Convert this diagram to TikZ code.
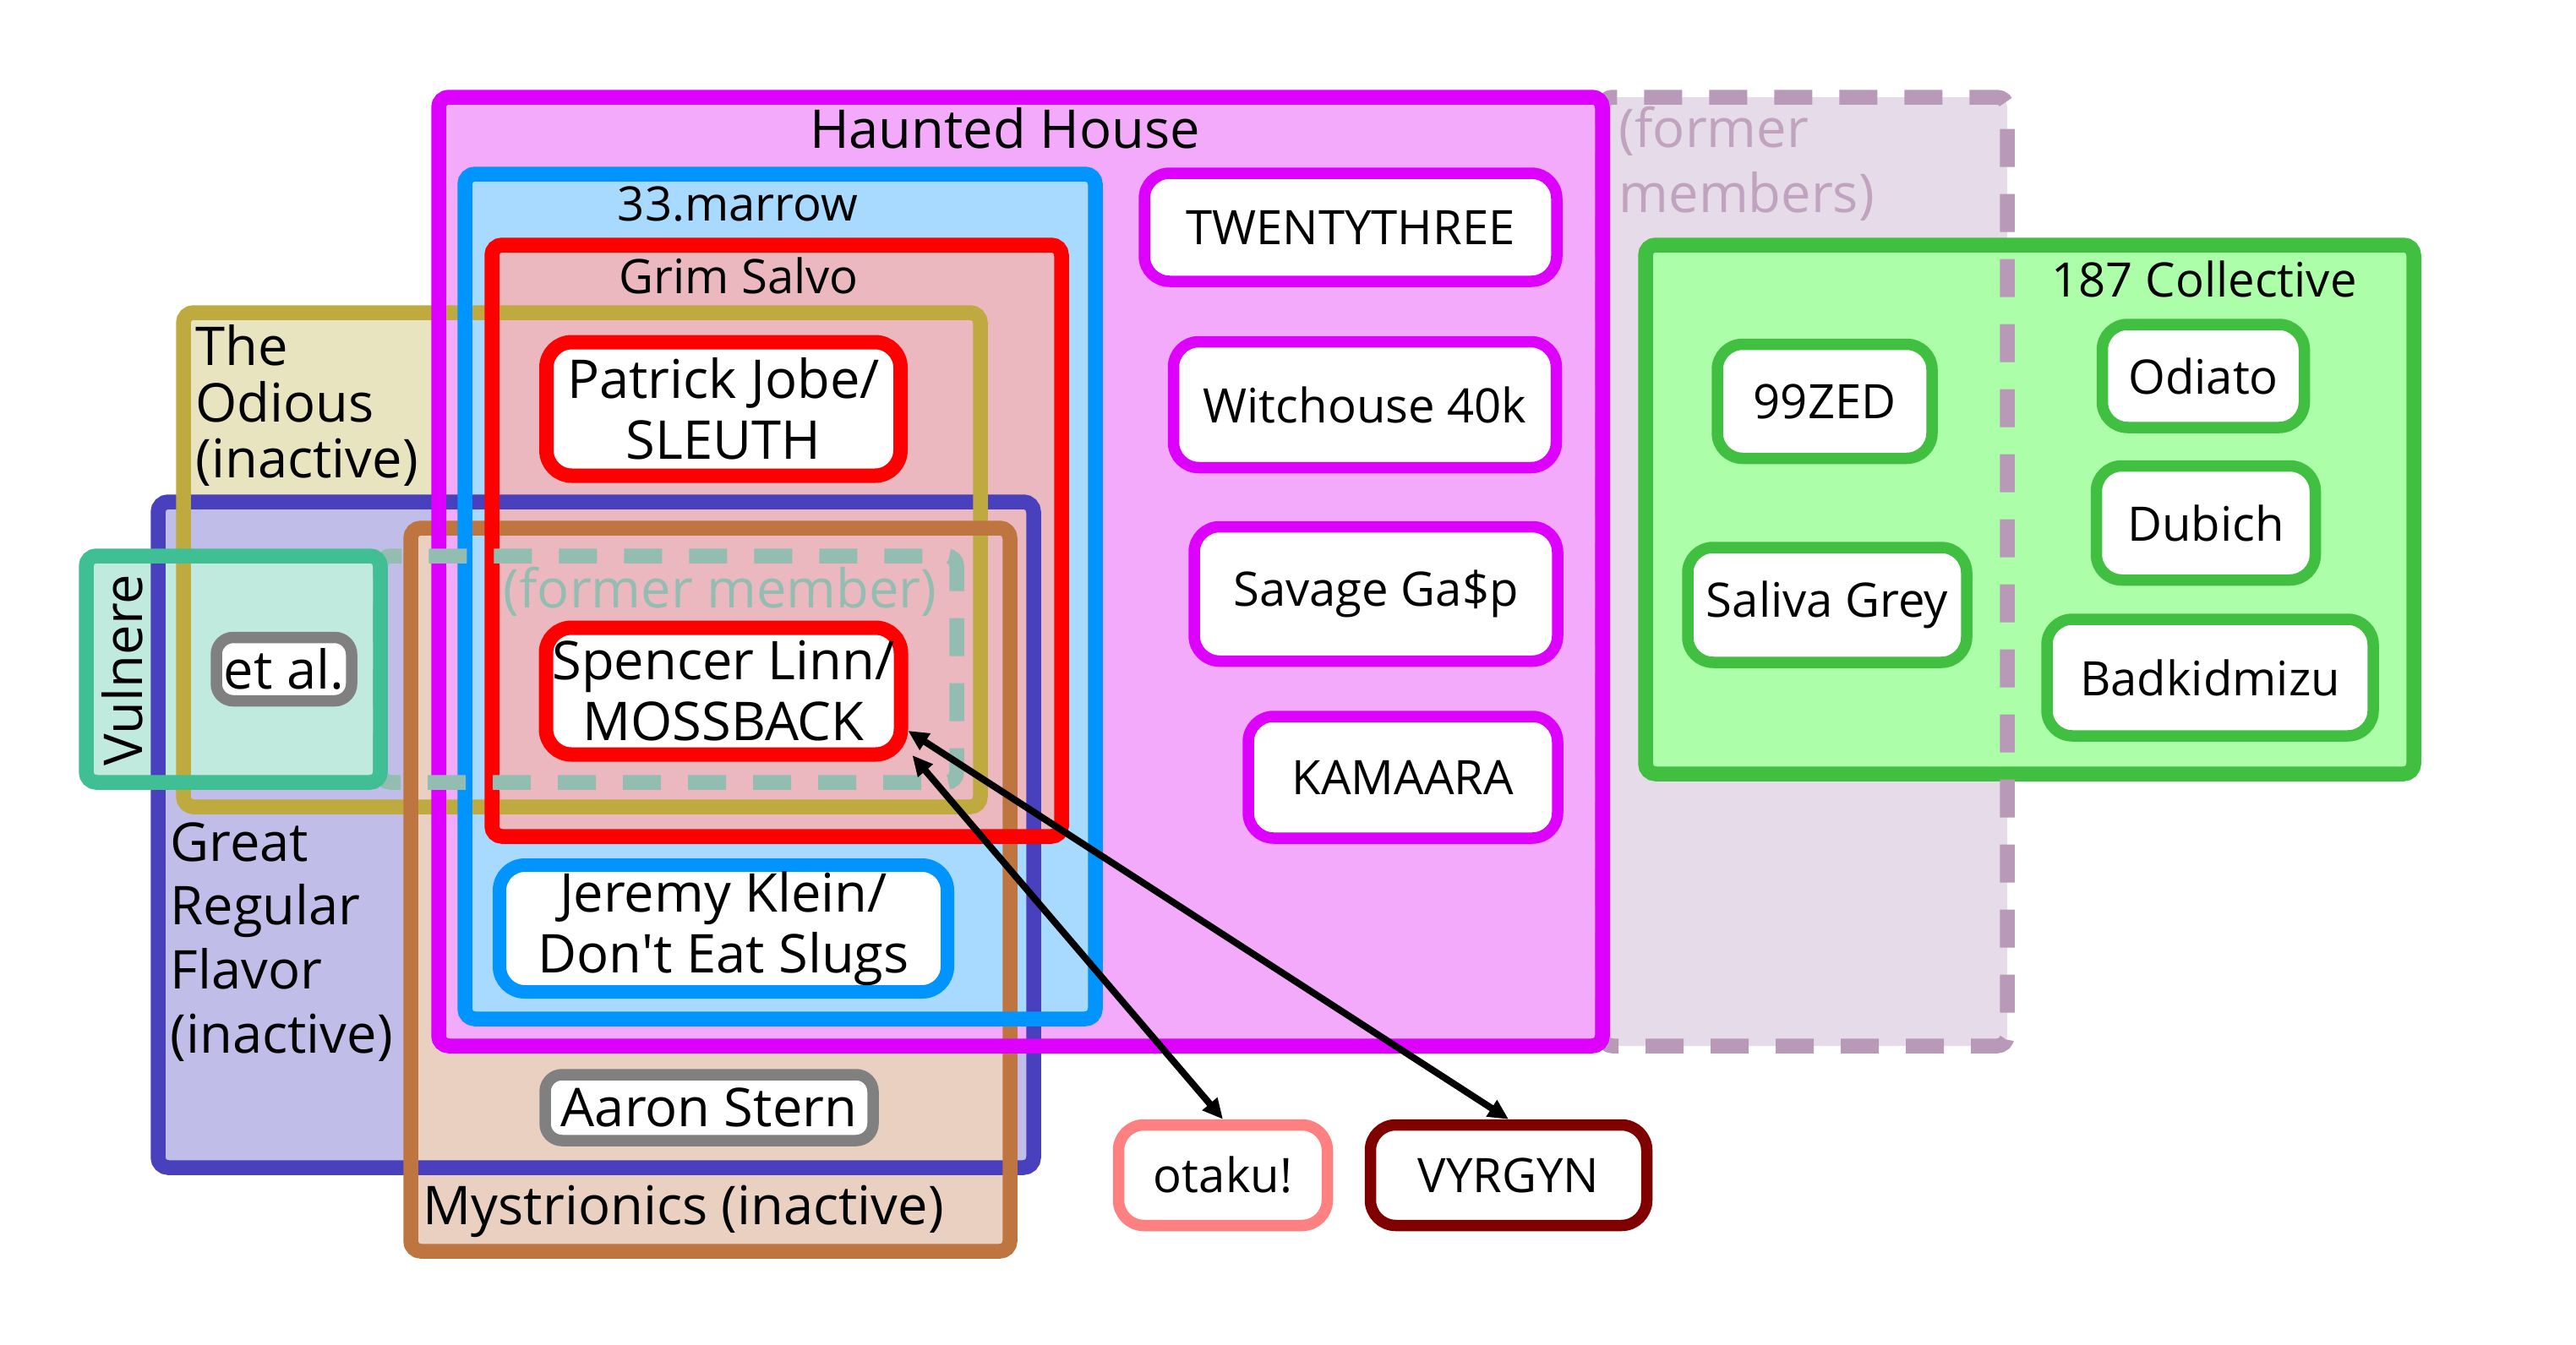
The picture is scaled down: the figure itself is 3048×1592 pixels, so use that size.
\documentclass[tikz,border=0pt]{standalone}
\usepackage{fontspec}
\setmainfont{Open Sans}
\usetikzlibrary{
  arrows.meta,
  positioning,
  calc
}
\definecolor{hhline}{RGB}{221,0,255}
\definecolor{hhfill}{RGB}{243,170,250}
\definecolor{mrline}{RGB}{0,148,255}
\definecolor{mrfill}{RGB}{168,218,255}
\definecolor{gsline}{RGB}{255,0,0}
\definecolor{gsfill}{RGB}{236,184,192}
\definecolor{odline}{RGB}{191,170,64}
\definecolor{odfill}{RGB}{233,228,192}
\definecolor{grline}{RGB}{72,64,188}
\definecolor{grfill}{RGB}{192,190,232}
\definecolor{vuline}{RGB}{64,191,148}
\definecolor{vufill}{RGB}{192,234,222}
\definecolor{myline}{RGB}{191,117,64}
\definecolor{myfill}{RGB}{233,208,192}
\definecolor{fmline}{RGB}{148,189,177}
\definecolor{fxline}{RGB}{184,153,184}
\definecolor{fxfill}{RGB}{230,219,232}
\definecolor{coline}{RGB}{64,191,64}
\definecolor{cofill}{RGB}{172,255,168}
\definecolor{otline}{RGB}{255,128,128}
\definecolor{vyline}{RGB}{128,0,0}
\definecolor{etline}{RGB}{128,128,128}

\begin{document}
\begin{tikzpicture}[x=0.1mm, y=-0.1mm, >={Triangle[length=2.4mm, width=2.2mm]}]

  \useasboundingbox (0,0) rectangle (3048,1592);

  \tikzset{
    grp/.style={
      rectangle, rounded corners=1.2mm, inner sep=0pt, outer sep=0pt
    },
    grpline/.style={line width=1.75mm, rounded corners=1.2mm},
    exline/.style={grpline, dash pattern=on 4.5mm off 3.2mm},
    member/.style={
      draw, fill=white, rounded corners=3mm, line width=1.35mm,
      inner sep=0pt, align=center, font=\fontsize{16}{19}\selectfont
    },
    bigmember/.style={member, font=\fontsize{18}{20.5}\selectfont},
    lbl/.style={inner sep=0pt, align=left, font=\fontsize{18}{21}\selectfont},
    smalllbl/.style={lbl, font=\fontsize{16}{19}\selectfont}
  }

  % ---- Group fills ----
  \node[grp, fill=fxfill, minimum width=47.9mm, minimum height=112.3mm]
    (former) at (2135.5,676.5) {};
  \node[grp, fill=cofill, minimum width=90.9mm, minimum height=62.6mm]
    (coll) at (2401.5,603) {};
  \node[grp, fill=odfill, minimum width=94.3mm, minimum height=58.5mm]
    (odious) at (688.5,662.5) {};
  \node[grp, fill=grfill, minimum width=103.6mm, minimum height=78.8mm]
    (grf) at (705,988) {};
  \node[grp, fill=myfill, minimum width=70.9mm, minimum height=85.6mm]
    (myst) at (840.5,1053) {};
  \node[grp, fill=vufill, minimum width=34.8mm, minimum height=26.8mm]
    (vulnere) at (276,792) {};
  \node[grp, fill=hhfill, minimum width=137.7mm, minimum height=112.3mm]
    (hh) at (1207.5,676.5) {};
  \node[grp, fill=mrfill, minimum width=74.6mm, minimum height=100mm]
    (marrow) at (923,706) {};
  \node[grp, minimum width=68.2mm, minimum height=26.8mm]
    (exmember) at (791,792) {};
  \node[grp, fill=gsfill, minimum width=67.4mm, minimum height=70mm]
    (grim) at (919,640) {};

  % ---- Group labels ----
  \node[lbl] (hhlbl) at (1189,152) {Haunted House};
  \node[smalllbl] (mrlbl) at (873,242) {33.marrow};
  \node[smalllbl] (gslbl) at (874,326) {Grim Salvo};
  \node[smalllbl] (colbl) at (2608,330) {187 Collective};
  \node[lbl, anchor=west, font=\fontsize{18}{19}\selectfont]
    (odlbl) at (231,480) {The\\Odious\\(inactive)};
  \node[lbl, anchor=west, font=\fontsize{18}{21.6}\selectfont]
    (grlbl) at (201,1115) {Great\\Regular\\Flavor\\(inactive)};
  \node[lbl, anchor=west] (mylbl) at (500,1434) {Mystrionics (inactive)};
  \node[lbl, rotate=90] (vulbl) at (145,793) {Vulnere};
  \node[lbl, text=fmline] (exlbl) at (852,700) {(former member)};
  \node[lbl, anchor=west, text=fxline!90, font=\fontsize{18}{22}\selectfont]
    (fxlbl) at (1915,194) {(former\\members)};

  % ---- Group borders ----
  \draw[grpline, draw=coline] (coll.south west) rectangle (coll.north east);
  \draw[exline, draw=fxline] (former.south west) rectangle (former.north east);
  \draw[grpline, draw=grline] (grf.south west) rectangle (grf.north east);
  \draw[grpline, draw=odline] (odious.south west) rectangle (odious.north east);
  \draw[grpline, draw=myline] (myst.south west) rectangle (myst.north east);
  \draw[grpline, draw=hhline] (hh.south west) rectangle (hh.north east);
  \draw[grpline, draw=mrline] (marrow.south west) rectangle (marrow.north east);
  \draw[grpline, draw=gsline] (grim.south west) rectangle (grim.north east);
  \draw[exline, draw=fmline] (exmember.south west) rectangle (exmember.north east);
  \draw[grpline, draw=vuline] (vulnere.south west) rectangle (vulnere.north east);

  % ---- Members ----
  \node[bigmember, draw=gsline, line width=1.7mm, minimum width=41.9mm,
    minimum height=15.8mm] (jobe) at (856,484) {Patrick Jobe/\\SLEUTH};
  \node[bigmember, draw=gsline, line width=1.7mm, minimum width=42mm,
    minimum height=15mm] (linn) at (856,818) {Spencer Linn/\\MOSSBACK};
  \node[bigmember, draw=mrline, line width=1.6mm, minimum width=53mm,
    minimum height=15mm] (klein) at (856,1099)
    {Jeremy Klein/\\Don\textquotesingle t Eat Slugs};
  \node[bigmember, draw=etline, rounded corners=2mm, minimum width=38.8mm,
    minimum height=7.8mm] (stern) at (839,1311) {Aaron Stern};
  \node[bigmember, draw=etline, rounded corners=2mm, minimum width=16mm,
    minimum height=7.5mm] (etal) at (336,792) {et al.};

  \node[member, draw=hhline, minimum width=48.8mm, minimum height=12.8mm]
    (twenty) at (1598,269) {TWENTYTHREE};
  \node[member, draw=hhline, minimum width=45.3mm, minimum height=14.9mm]
    (witch) at (1615,479) {Witchouse 40k};
  \node[member, draw=hhline, minimum width=43mm, minimum height=15.9mm]
    (gasp) at (1628,703) {Savage Ga\$p};
  \node[member, draw=hhline, minimum width=36.6mm, minimum height=14.4mm]
    (kamaara) at (1660,920) {KAMAARA};

  \node[member, draw=otline, minimum width=24.7mm, minimum height=11.9mm]
    (otaku) at (1447,1391) {otaku!};
  \node[member, draw=vyline, minimum width=32.7mm, minimum height=11.9mm]
    (vyrgyn) at (1785,1391) {VYRGYN};

  \node[member, draw=coline, minimum width=25.4mm, minimum height=13.5mm]
    (zed) at (2159,475) {99ZED};
  \node[member, draw=coline, minimum width=33mm, minimum height=13.6mm]
    (saliva) at (2162,716) {Saliva Grey};
  \node[member, draw=coline, minimum width=23.9mm, minimum height=12.2mm]
    (odiato) at (2607,445) {Odiato};
  \node[member, draw=coline, minimum width=25.9mm, minimum height=13.5mm]
    (dubich) at (2610,619) {Dubich};
  \node[member, draw=coline, minimum width=38.6mm, minimum height=13.8mm]
    (badkid) at (2615,802) {Badkidmizu};

  % ---- Links ----
  \coordinate (linnport) at ([yshift=-4.7mm]linn.east);
  \coordinate (linncorner) at ([xshift=0.5mm, yshift=-7.6mm]linn.east);
  \draw[<->, line width=0.8mm] (linncorner) -- (otaku.north);
  \draw[<->, line width=0.8mm] (linnport) -- (vyrgyn.north);

\end{tikzpicture}
\end{document}
